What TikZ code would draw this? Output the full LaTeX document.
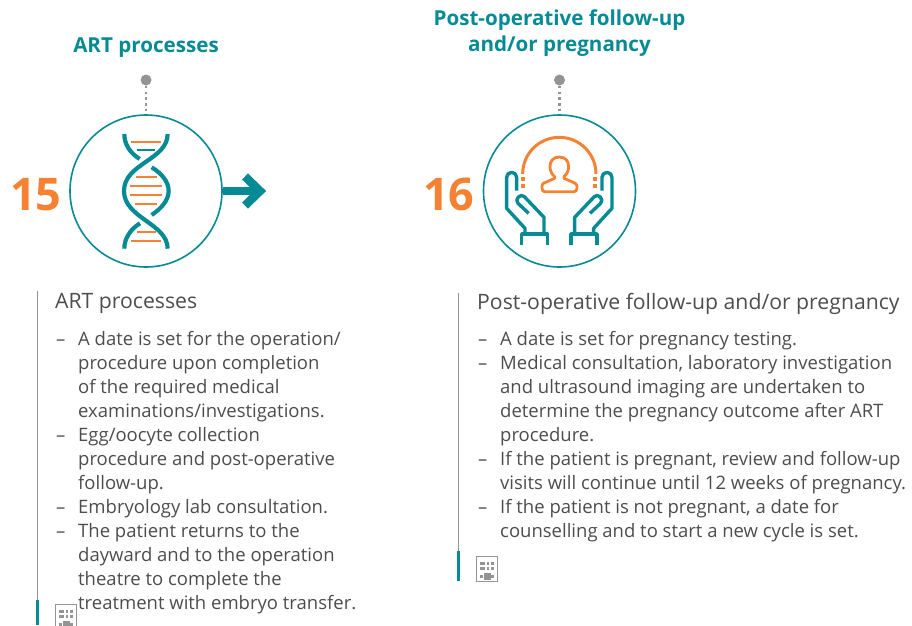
\documentclass[tikz,border=0pt]{standalone}
\usepackage{fontspec}
\setmainfont{Open Sans}
\definecolor{teal1}{HTML}{068A93}
\definecolor{org}{HTML}{F58233}
\definecolor{txt}{HTML}{4D4D4D}
\definecolor{gry}{HTML}{949494}
\tikzset{
 head/.style={text=teal1,font=\fontsize{20.6}{26}\selectfont\bfseries,align=center,anchor=center,inner sep=0},
 num/.style={text=org,font=\fontsize{45}{45}\selectfont\bfseries,anchor=base west,inner sep=0},
 ring/.style={circle,draw=teal1,line width=1.6pt,minimum size=152pt,inner sep=0},
 pin/.style={circle,fill=gry,minimum size=11pt,inner sep=0},
 lnk/.style={draw=gry,line width=2.2pt,dash pattern=on 2.4pt off 3.4pt},
 ttl/.style={text=txt,font=\fontsize{21.2}{24}\selectfont,anchor=base west,inner sep=0},
 ln/.style={text=txt,font=\fontsize{18.5}{24}\selectfont,anchor=base west,inner sep=0},
 tealline/.style={draw=teal1,line width=4.2pt},
 orgline/.style={draw=org,line width=2pt},
 hand/.style={draw=teal1,line width=3.4pt,line join=round},
 pers/.style={draw=org,line width=2.8pt,line join=round},
 vbar/.style={draw=gry,line width=1pt},
 vact/.style={draw=teal1,line width=3pt},
 doc/.style={draw=gry,fill=white,line width=.8pt},
}
\newcommand{\bldg}[2]{%
 \begin{scope}[shift={(#1,#2)},x=1pt,y=-1pt]
 \draw[doc] (0,0) rectangle (21,25);
 \foreach \yy in {6.3,11.3}{\fill[gry] (4,\yy) rectangle ++(4.7,2.7);\fill[gry] (10.7,\yy) rectangle ++(2.7,2.7);\fill[gry] (15,\yy) rectangle ++(3,2.7);}
 \fill[gry] (4,19) rectangle ++(2.5,3);\fill[gry] (15,19) rectangle ++(3,3);\fill[gry] (8,16.7) rectangle ++(6.7,7.5);
 \end{scope}}
\begin{document}
\begin{tikzpicture}[x=1pt,y=-1pt]
\useasboundingbox (0,0) rectangle (912,625);
% headings
\node[head] (h1) at (146,47.5) {ART processes};
\node[head] (h2) at (559.5,33) {Post-operative follow-up\\and/or pregnancy};
% rings and pins
\node[ring] (c1) at (146,191) {};
\node[ring] (c2) at (559.5,191) {};
\node[pin] (p1) at (146,80) {};
\node[pin] (p2) at (559.5,80) {};
\draw[lnk] (p1) -- (c1.north);
\draw[lnk] (p2) -- (c2.north);
\node[num] (n1) at (10,210) {15};
\node[num] (n2) at (423,210) {16};
% arrow
\coordinate (a1) at (260,191);
\draw[draw=teal1,line width=7.5pt] (c1.east) -- (a1);
\draw[draw=teal1,line width=8.5pt,miter limit=10] (245,176.5) -- (a1) -- (245,205.5);
% DNA
\begin{scope}[shift={(0,60)},x=.3333pt,y=-.3333pt]
 \draw[orgline] (394,245) -- (483,245);
 \draw[draw=teal1,line width=2pt] (412,271) -- (465,271);
 \draw[orgline] (408,351) -- (470,351);
 \draw[orgline] (390,378) -- (487,378);
 \draw[orgline] (390,405) -- (487,405);
 \draw[orgline] (404,432) -- (472,432);
 \draw[orgline] (410,517) -- (467,517);
 \draw[orgline] (394,543) -- (483,543);
 \draw[tealline] (503,222) .. controls (503,300) and (372,310) .. (372,393) .. controls (372,475) and (503,490) .. (503,566);
 \draw[tealline] (373,222) .. controls (373,255) and (392,280) .. (419,297);
 \draw[tealline] (455,322) .. controls (485,340) and (506,365) .. (506,393) .. controls (506,420) and (485,445) .. (455,465);
 \draw[tealline] (420,490) .. controls (392,507) and (373,535) .. (373,566);
\end{scope}
% Hands and person
\begin{scope}[shift={(410,60)},x=.3333pt,y=-.3333pt]
 \draw[draw=org,line width=3pt] (338,342) arc[start angle=180,end angle=360,radius=110];
 \foreach \xx in {339,555}{\foreach \yy in {356,378}{\fill[org] (\xx-6,\yy-6) rectangle (\xx+6,\yy+6);}}
 \draw[pers] (448,291) .. controls (428,291) and (420,305) .. (420,320) .. controls (420,335) and (428,345) .. (434,350) -- (434,355) -- (400,370) .. controls (393,374) and (395,395) .. (403,395) -- (493,395) .. controls (503,395) and (504,374) .. (496,370) -- (462,355) -- (462,350) .. controls (468,345) and (476,335) .. (476,320) .. controls (476,305) and (468,291) .. (448,291) -- cycle;
 \foreach \mm/\cc in {1/0,-1/896}{
 \begin{scope}[shift={(\cc,0)},xscale=\mm]
  \draw[hand] (320,392) -- (320,352) arc[start angle=0,end angle=-180,radius=15] -- (290,445) -- (345,505) -- (345,522);
  \draw[hand] (402,522) -- (402,472) -- (343,410) .. controls (333,398) and (312,418) .. (324,430) -- (356,460);
  \draw[hand] (335,556) -- (335,522) -- (413,522) -- (413,556);
 \end{scope}}
\end{scope}
% left text
\draw[vbar] (37,291) -- (37,600);
\draw[vact] (37,600) -- (37,625);
\node[ttl] (t1) at (55,308) {ART processes};
\node[ln] (l1) at (56,345) {–};
\node[ln] (l2) at (78,345) {A date is set for the operation/};
\node[ln] (l3) at (78,369) {procedure upon completion};
\node[ln] (l4) at (78,393) {of the required medical};
\node[ln] (l5) at (78,417) {examinations/investigations.};
\node[ln] (l6) at (56,441) {–};
\node[ln] (l7) at (78,441) {Egg/oocyte collection};
\node[ln] (l8) at (78,465) {procedure and post-operative};
\node[ln] (l9) at (78,489) {follow-up.};
\node[ln] (l10) at (56,513) {–};
\node[ln] (l11) at (78,513) {Embryology lab consultation.};
\node[ln] (l12) at (56,537) {–};
\node[ln] (l13) at (78,537) {The patient returns to the};
\node[ln] (l14) at (78,561) {dayward and to the operation};
\node[ln] (l15) at (78,585) {theatre to complete the};
\node[ln] (l16) at (78,609) {treatment with embryo transfer.};
\bldg{55}{604}
% right text
\draw[vbar] (458.5,293) -- (458.5,551);
\draw[vact] (458.5,551) -- (458.5,581);
\node[ttl] (t2) at (477,309) {Post-operative follow-up and/or pregnancy};
\node[ln] (r1) at (478,345) {–};
\node[ln] (r2) at (500,345) {A date is set for pregnancy testing.};
\node[ln] (r3) at (478,369) {–};
\node[ln] (r4) at (500,369) {Medical consultation, laboratory investigation};
\node[ln] (r5) at (500,393) {and ultrasound imaging are undertaken to};
\node[ln] (r6) at (500,417) {determine the pregnancy outcome after ART};
\node[ln] (r7) at (500,441) {procedure.};
\node[ln] (r8) at (478,465) {–};
\node[ln] (r9) at (500,465) {If the patient is pregnant, review and follow-up};
\node[ln] (r10) at (500,489) {visits will continue until 12 weeks of pregnancy.};
\node[ln] (r11) at (478,513) {–};
\node[ln] (r12) at (500,513) {If the patient is not pregnant, a date for};
\node[ln] (r13) at (500,537) {counselling and to start a new cycle is set.};
\bldg{476}{556}
\end{tikzpicture}
\end{document}
